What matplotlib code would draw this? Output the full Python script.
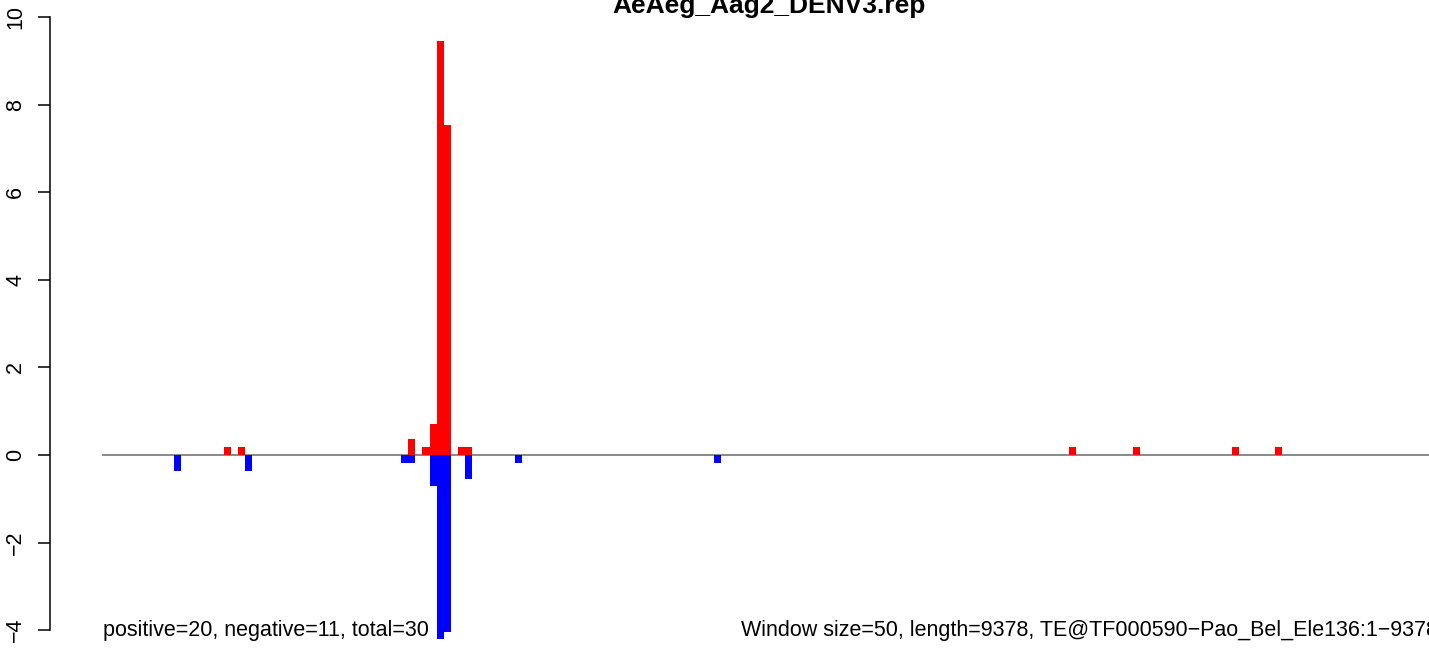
import matplotlib
matplotlib.use("Agg")
import matplotlib.pyplot as plt

plt.rcParams['font.family'] = ['Liberation Sans', 'DejaVu Sans']

# data: bar start positions (bp) and heights
win = 50
length = 9378
pos_start = [850, 950, 2150, 2250, 2300, 2350, 2400, 2500, 2550,
             6800, 7250, 7950, 8250]
pos_val = [0.18, 0.18, 0.36, 0.18, 0.70, 9.45, 7.53, 0.18, 0.18,
           0.18, 0.18, 0.18, 0.18]
neg_start = [500, 1000, 2100, 2150, 2300, 2350, 2400, 2550, 2900, 4300]
neg_val = [-0.36, -0.36, -0.18, -0.18, -0.70, -4.20, -4.03, -0.54, -0.18, -0.18]
yticks = [-4, -2, 0, 2, 4, 6, 8, 10]
title = "AeAeg_Aag2_DENV3.rep"
left_note = "positive=20, negative=11, total=30"
right_note = "Window size=50, length=9378, TE@TF000590\u2212Pao_Bel_Ele136:1\u22129378"

W, H = 1429, 650
fig = plt.figure(figsize=(W / 100, H / 100), dpi=100)
ax = fig.add_axes([50 / W, 0, 1 - 50 / W, 1])

px_per_bp = 7.1 / win
ax.set_xlim(-53 / px_per_bp, (W - 103) / px_per_bp)
ax.set_ylim(-(H - 455) / 43.8, 455 / 43.8)

ax.plot([0, length * 1.1], [0, 0], color='#808080', lw=1.3, zorder=1)
ax.bar(pos_start, pos_val, width=win, align='edge', color='red', lw=0, zorder=2)
ax.bar(neg_start, neg_val, width=win, align='edge', color='blue', lw=0, zorder=2)

for s in ['top', 'right', 'bottom']:
    ax.spines[s].set_visible(False)
ax.spines['left'].set_bounds(-4, 10)
ax.spines['left'].set_linewidth(1.1)
ax.set_xticks([])
ax.set_yticks(yticks)
ax.set_yticklabels([str(t).replace('-', '\u2212') for t in yticks],
                   rotation=90, va='center', fontsize=15.5)
ax.tick_params(axis='y', length=8.6, width=1.1, pad=8.5)

ax.text(0, -4, left_note, ha='left', va='center', fontsize=15.5)
ax.text(length + 20, -4, right_note, ha='right', va='center', fontsize=15.5,
        clip_on=False)
fig.text(769 / W, (H - 13) / H, title, ha='center', va='baseline',
         fontsize=19, fontweight='bold')

fig.savefig('out.png', dpi=100)
